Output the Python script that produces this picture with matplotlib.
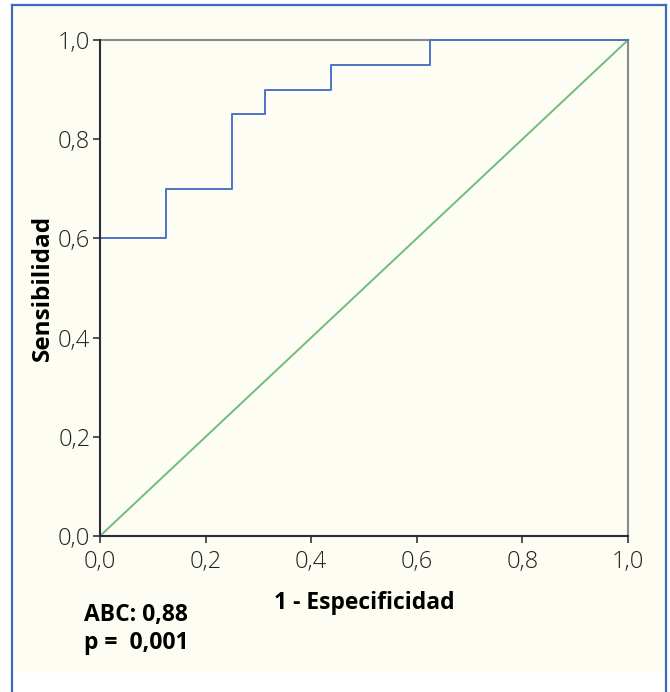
import matplotlib
matplotlib.use("Agg")
import matplotlib.pyplot as plt
from matplotlib.patches import Rectangle

plt.rcParams['font.family'] = ['Open Sans', 'DejaVu Sans']

# ROC curve data (1 - specificity, sensitivity)
fpr = [0.0, 0.0, 0.125, 0.125, 0.25, 0.25, 0.3125, 0.3125, 0.4375, 0.4375, 0.625, 0.625, 1.0]
tpr = [0.0, 0.6, 0.6, 0.7, 0.7, 0.85, 0.85, 0.9, 0.9, 0.95, 0.95, 1.0, 1.0]
ref_x = [0.0, 1.0]
ref_y = [0.0, 1.0]
ticks = [0.0, 0.2, 0.4, 0.6, 0.8, 1.0]
tick_labels = ["0,0", "0,2", "0,4", "0,6", "0,8", "1,0"]
x_label = "1 - Especificidad"
y_label = "Sensibilidad"
auc_text = "ABC: 0,88"
p_text = "p =  0,001"

W, H = 670, 692
fig = plt.figure(figsize=(W/100, H/100), dpi=100)
fig.patch.set_facecolor('white')

bg = '#FEFDF3'
# cream panel with blue frame
fig.patches.append(Rectangle((12/W, 1-673/H), (666-12)/W, (673-5)/H,
                             transform=fig.transFigure, facecolor=bg,
                             edgecolor='none', zorder=-2))
border = '#3A6BC0'
for xs, ys in [([12, 12], [5, 700]), ([666, 666], [5, 700]), ([12, 666], [5, 5])]:
    fig.add_artist(plt.Line2D([x/W for x in xs], [1-y/H for y in ys],
                              transform=fig.transFigure, color=border, lw=1.6, zorder=-1))

ax = fig.add_axes([100/W, 1-536/H, (628-100)/W, (536-40)/H])
ax.set_zorder(1)
ax.set_facecolor(bg)

ax.plot(ref_x, ref_y, color='#6DBE7C', lw=1.4, zorder=2, clip_on=False)
ax.plot(fpr, tpr, color='#4F72C4', lw=1.4, zorder=3, clip_on=False)

ax.set_xlim(0, 1)
ax.set_ylim(0, 1)
ax.set_xticks(ticks)
ax.set_xticklabels(tick_labels)
ax.set_yticks(ticks)
ax.set_yticklabels(tick_labels)
ax.tick_params(direction='out', length=5, width=1.2, color='#333340',
               labelsize=17, labelcolor='#222222')
ax.tick_params(axis='x', pad=5)
ax.tick_params(axis='y', pad=2)
for lab in ax.get_xticklabels() + ax.get_yticklabels():
    lab.set_fontweight('light')

for s in ['left', 'bottom']:
    ax.spines[s].set_color('#2B2B3A')
    ax.spines[s].set_linewidth(1.5)
    ax.spines[s].set_zorder(5)
ax.spines['right'].set_color('#8A8A8A')
ax.spines['right'].set_linewidth(1.5)
ax.spines['right'].set_zorder(2.5)
ax.spines['top'].set_color('#8A8A8A')
ax.spines['top'].set_linewidth(1.5)
ax.spines['top'].set_zorder(1.5)

ax.set_xlabel(x_label, fontsize=16.5, fontweight='bold', labelpad=12)
ax.set_ylabel(y_label, fontsize=17.5, fontweight='bold', labelpad=2)

fig.text(84/W, 1-615/H, auc_text, fontsize=16.5, fontweight='bold', va='center', ha='left')
fig.text(84/W, 1-643/H, p_text, fontsize=16.5, fontweight='bold', va='center', ha='left')

fig.savefig('out.png', dpi=100)
